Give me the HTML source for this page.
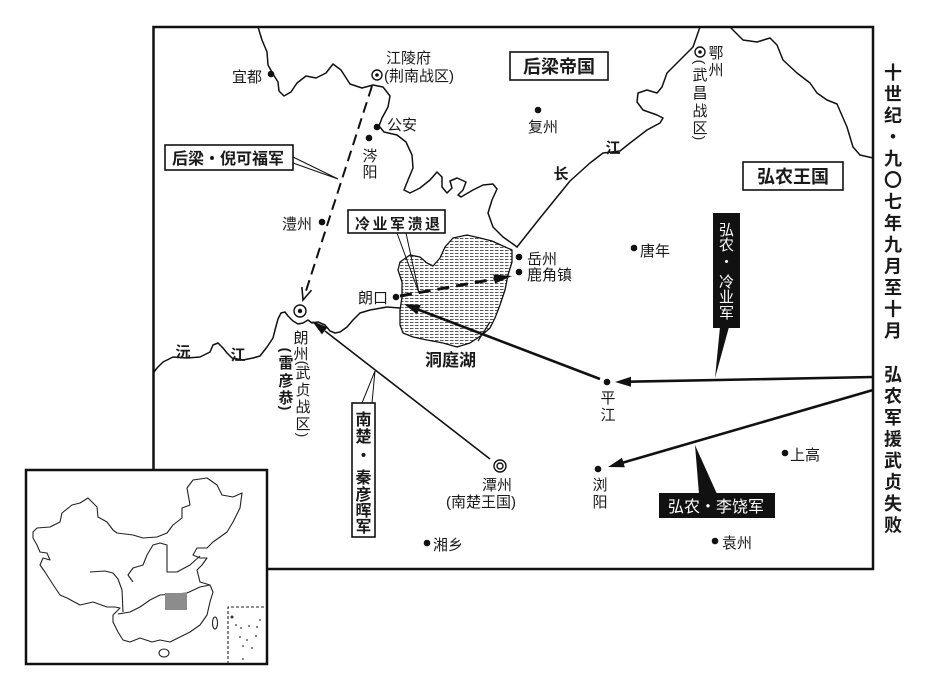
<!DOCTYPE html>
<html><head><meta charset="utf-8"><style>
html,body{margin:0;padding:0;background:#fff;}
svg{display:block;}
text{font-family:"Liberation Sans","Noto Sans CJK SC",sans-serif;fill:#1a1a1a;}
.p{font-size:15px;fill:#222;}
.b{font-weight:bold;}
.w{fill:#fff;}
</style></head><body>
<svg width="927" height="691" viewBox="0 0 927 691" xmlns="http://www.w3.org/2000/svg">
<defs>
<pattern id="lk" width="5" height="3" patternUnits="userSpaceOnUse">
<rect width="5" height="3" fill="#fff"/>
<line x1="0" y1="1.5" x2="3.5" y2="1.5" stroke="#444" stroke-width="0.9"/>
</pattern>
</defs>
<rect width="927" height="691" fill="#fff"/>

<!-- main frame -->
<rect x="153.5" y="27" width="719.5" height="542" fill="none" stroke="#111" stroke-width="2.5"/>

<!-- rivers -->
<g fill="none" stroke="#111" stroke-width="1.5" stroke-linejoin="round" stroke-linecap="round">
<polyline points="258,27 262,40 267,52 268,65 273,74 278,82 279,91 284,96 291,92 297,83 306,76 316,78 326,73 333,64 341,70 350,84 362,88 373,85 383,87 390,96 388,107 382,118 379,126 384,132 397,135 406,142 412,155 413,168 408,180 404,190 410,193 420,188 430,180 437,172 442,177 442,187 447,193 452,188 450,181 457,178 466,182 463,190 458,195 461,197 473,190 483,185 493,184 497,189 492,200 488,213 493,227 503,237 513,244 517,247"/>
<polyline points="517,247 540,218 570,181 590,163 603,153 620,151 630,143 647,130 660,123 663,118 657,115 643,110 637,102 638,93 647,90 657,93 662,87 667,73 680,60 693,47 700,27"/>
<polyline points="730,27 743,40 757,42 770,38 777,45 783,60 797,73 810,83 817,93 827,100 837,104 847,127 853,147 860,155 873,158"/>
<polyline points="400,308 387,307 370,310 360,313 353,320 347,327 340,332 335,333 330,331 325,325 318,322 312,323 308,320 303,323 298,324 293,321 288,316 285,312 281,313 278,319 275,330 273,338 267,347 260,356 253,358 243,360 232,358 227,353 223,348 218,343 213,345 210,352 200,357 187,358 173,357 163,362 157,368 154,372"/>
</g>

<!-- lake -->
<path d="M400,262 L410,255 L420,257 L427,263 L433,266 L440,258 L445,247 L453,238 L467,235 L480,238 L492,241 L503,246 L512,250 L512,262 L508,275 L505,290 L500,305 L495,318 L490,328 L482,335 L470,343 L457,347 L443,343 L427,340 L413,337 L403,333 L400,325 L400,310 L402,297 L402,282 L398,270 Z" fill="url(#lk)" stroke="#111" stroke-width="1.3" stroke-linejoin="round"/>
<line x1="478" y1="341" x2="490" y2="322" stroke="#111" stroke-width="1.2"/>

<!-- dashed Houliang army -->
<line x1="372" y1="86" x2="305" y2="294" stroke="#111" stroke-width="2" stroke-dasharray="11,6"/>
<polyline points="301.9,287.1 303,300 311.5,290.1" fill="none" stroke="#111" stroke-width="1.6"/>
<polyline points="293,157 338,179 293,163" fill="none" stroke="#111" stroke-width="1"/>

<!-- retreat dashed -->
<line x1="400" y1="296" x2="495" y2="279" stroke="#111" stroke-width="3" stroke-dasharray="12,7"/>
<polygon points="512,276 495,283.5 493.5,274.5" fill="#111"/>
<polyline points="397,233 419,293 406,233" fill="none" stroke="#111" stroke-width="1"/>

<!-- Pingjiang -> Langkou -->
<line x1="600" y1="379" x2="418" y2="309.5" stroke="#111" stroke-width="2.6"/>
<polygon points="404,304 420.7,305 417.1,314.4" fill="#111"/>

<!-- right edge -> Pingjiang -->
<line x1="873" y1="377" x2="630" y2="381.7" stroke="#111" stroke-width="2.6"/>
<polygon points="615,382 631,376.7 631,386.7" fill="#111"/>

<!-- right edge -> Liuyang -->
<line x1="873" y1="390" x2="623" y2="462.6" stroke="#111" stroke-width="2.6"/>
<polygon points="608,467 622,457.7 624.8,467.3" fill="#111"/>

<!-- Tanzhou -> Langzhou -->
<line x1="490" y1="459" x2="325" y2="331" stroke="#111" stroke-width="1.6"/>
<polygon points="312,321 327.5,327.2 321.9,334.4" fill="#111"/>
<polyline points="362,403 375,371 372,403" fill="none" stroke="#111" stroke-width="1"/>

<!-- black leader wedges -->
<polygon points="720,327 729,327 715,378" fill="#111"/>
<polygon points="699,494 717,494 695,445" fill="#111"/>

<!-- labels boxes -->
<rect x="165" y="145" width="128" height="25" fill="#fff" stroke="#111" stroke-width="1.6"/>
<text x="172" y="164" class="b" font-size="16">后梁・倪可福军</text>

<rect x="348" y="210" width="97" height="23" fill="#fff" stroke="#111" stroke-width="1.6"/>
<text x="355" y="229" font-size="15" letter-spacing="2.5" class="b">冷业军溃退</text>

<rect x="510" y="52" width="98" height="28" fill="#fff" stroke="#111" stroke-width="1.6"/>
<text x="559" y="73" text-anchor="middle" class="b" font-size="18">后梁帝国</text>

<rect x="743" y="162" width="100" height="28" fill="#fff" stroke="#111" stroke-width="1.6"/>
<text x="793" y="183" text-anchor="middle" class="b" font-size="18">弘农王国</text>

<rect x="352" y="403" width="23" height="134" fill="#fff" stroke="#111" stroke-width="1.6"/>
<g class="b" font-size="16" text-anchor="middle">
<text x="363.5" y="425">南</text><text x="363.5" y="442">楚</text><text x="363.5" y="461">・</text>
<text x="363.5" y="483">秦</text><text x="363.5" y="500">彦</text><text x="363.5" y="516">晖</text><text x="363.5" y="532">军</text>
</g>

<rect x="713" y="213" width="27" height="115" fill="#111"/>
<g font-size="15" text-anchor="middle">
<text class="w" x="726.5" y="235">弘</text><text class="w" x="726.5" y="250">农</text><text class="w" x="726.5" y="267">・</text>
<text class="w" x="726.5" y="287">冷</text><text class="w" x="726.5" y="302">业</text><text class="w" x="726.5" y="318">军</text>
</g>

<rect x="659" y="493" width="116" height="25" fill="#111"/>
<text class="w" x="668" y="512" font-size="16">弘农・李饶军</text>

<!-- symbols -->
<g fill="#111">
<circle cx="271" cy="74" r="3.3"/>
<circle cx="377" cy="127" r="3.3"/>
<circle cx="369" cy="138" r="3.3"/>
<circle cx="322" cy="222" r="3.3"/>
<circle cx="538" cy="110" r="3.3"/>
<circle cx="634" cy="248" r="3.3"/>
<circle cx="519" cy="257" r="3.3"/>
<circle cx="519" cy="272" r="3.3"/>
<circle cx="396" cy="297" r="3.3"/>
<circle cx="607" cy="382" r="3.3"/>
<circle cx="598" cy="469" r="3.3"/>
<circle cx="785" cy="453" r="3.3"/>
<circle cx="715" cy="541" r="3.3"/>
<circle cx="427" cy="543" r="3.3"/>
</g>
<g fill="#fff" stroke="#111" stroke-width="1.4">
<circle cx="377" cy="75" r="5"/>
<circle cx="700" cy="52" r="5"/>
<circle cx="300" cy="311" r="6"/>
<circle cx="500" cy="466" r="6"/>
<circle cx="500" cy="466" r="3"/>
</g>
<g fill="#111">
<circle cx="377" cy="75" r="1.8"/>
<circle cx="700" cy="52" r="1.8"/>
<circle cx="300" cy="311" r="2.2"/>
</g>

<!-- place labels -->
<g class="p">
<text x="232" y="82">宜都</text>
<text x="386" y="63">江陵府</text>
<text x="384" y="81">(荆南战区)</text>
<text x="387" y="130">公安</text>
<text x="370" y="161" text-anchor="middle">涔</text>
<text x="370" y="177" text-anchor="middle">阳</text>
<text x="282" y="229">澧州</text>
<text x="528" y="132">复州</text>
<text x="716" y="58" text-anchor="middle">鄂</text>
<text x="716" y="75" text-anchor="middle">州</text>
<text x="700" y="80" text-anchor="middle">武</text>
<text x="700" y="98" text-anchor="middle">昌</text>
<text x="700" y="116" text-anchor="middle">战</text>
<text x="700" y="133" text-anchor="middle">区</text>
<text x="640" y="256">唐年</text>
<text x="527" y="264">岳州</text>
<text x="527" y="280">鹿角镇</text>
<text x="358" y="303">朗口</text>
<text x="301" y="343" text-anchor="middle">朗</text>
<text x="301" y="359" text-anchor="middle">州</text>
<text x="303" y="378" text-anchor="middle">武</text>
<text x="303" y="395" text-anchor="middle">贞</text>
<text x="303" y="412" text-anchor="middle">战</text>
<text x="303" y="429" text-anchor="middle">区</text>
<text x="482" y="490">潭州</text>
<text x="446" y="507">(南楚王国)</text>
<text x="433" y="550">湘乡</text>
<text x="608" y="403" text-anchor="middle">平</text>
<text x="608" y="420" text-anchor="middle">江</text>
<text x="600" y="490" text-anchor="middle">浏</text>
<text x="600" y="507" text-anchor="middle">阳</text>
<text x="790" y="460">上高</text>
<text x="722" y="548">袁州</text>
</g>
<!-- rotated parens for vertical labels -->
<g font-size="14" text-anchor="middle" fill="#222">
<text x="700" y="67" transform="rotate(90 700 62)">(</text>
<text x="700" y="143" transform="rotate(90 700 138)">)</text>
<text x="303" y="368" transform="rotate(90 303 363)">(</text>
<text x="303" y="440" transform="rotate(90 303 435)">)</text>
<text x="286" y="355" transform="rotate(90 286 350)" font-weight="bold">(</text>
<text x="286" y="413" transform="rotate(90 286 408)" font-weight="bold">)</text>
</g>
<g class="b" font-size="15" text-anchor="middle">
<text x="286" y="368">雷</text>
<text x="286" y="386">彦</text>
<text x="286" y="403">恭</text>
<text x="183" y="357">沅</text>
<text x="238" y="360">江</text>
<text x="561" y="179">长</text>
<text x="613" y="153">江</text>
</g>
<text x="425" y="366" class="b" font-size="17">洞庭湖</text>

<!-- right title -->
<g class="b" font-size="18" text-anchor="middle">
<text x="893" y="79">十</text>
<text x="893" y="100.5">世</text>
<text x="893" y="122">纪</text>
<text x="893" y="143.5">・</text>
<text x="893" y="165">九</text>
<text x="893" y="186.5">〇</text>
<text x="893" y="208">七</text>
<text x="893" y="229.5">年</text>
<text x="893" y="251">九</text>
<text x="893" y="272.5">月</text>
<text x="893" y="294">至</text>
<text x="893" y="315.5">十</text>
<text x="893" y="337">月</text>
<text x="893" y="381">弘</text>
<text x="893" y="402.5">农</text>
<text x="893" y="424">军</text>
<text x="893" y="445.5">援</text>
<text x="893" y="467">武</text>
<text x="893" y="488.5">贞</text>
<text x="893" y="510">失</text>
<text x="893" y="531.5">败</text>
</g>

<!-- inset map -->
<rect x="26" y="470" width="241" height="194" fill="#fff" stroke="#111" stroke-width="2.5"/>
<g fill="none" stroke="#222" stroke-width="1.1" stroke-linejoin="round">
<path d="M33,532 L37,528 L50,527 L60,522 L62,513 L72,505 L80,503 L88,498 L97,507 L98,517 L107,522 L113,530 L117,533 L133,535 L143,538 L157,537 L167,533 L173,525 L182,518 L182,508 L190,505 L187,488 L193,480 L207,478 L217,485 L222,495 L233,497 L242,493 L240,508 L233,522 L227,532 L213,542 L207,548 L197,548 L193,555 L200,558 L207,558 L202,565 L197,570 L200,582 L210,585 L213,592 L210,602 L207,615 L200,625 L190,632 L180,637 L170,642 L160,640 L152,642 L140,638 L130,642 L123,640 L118,632 L113,622 L113,615 L120,608 L115,607 L107,607 L93,602 L80,605 L67,598 L60,595 L52,583 L45,572 L40,565 L43,558 L50,560 L47,553 L40,552 L37,545 L33,538 Z"/>
<polyline points="90,572 105,571 113,573 118,579 122,590 123,612"/>
<polyline points="133,582 128,575 133,568 143,565 147,555 153,545 160,543 167,545 167,560 167,572 177,572 190,565 200,556"/>
<polyline points="118,614 130,612 140,607 150,600 160,595 175,594 187,593 200,587 210,585"/>
<ellipse cx="164" cy="653" rx="5" ry="4"/>
<ellipse cx="215" cy="623" rx="2.5" ry="6"/>
<polyline points="228,664 228,607 266,607" stroke-dasharray="3,2"/>
</g>
<rect x="165" y="593" width="22" height="17" fill="#8c8c8c"/>
<g fill="#333">
<circle cx="236" cy="625" r="0.9"/><circle cx="241" cy="628" r="0.9"/><circle cx="249" cy="626" r="0.9"/>
<circle cx="257" cy="627" r="0.9"/><circle cx="240" cy="637" r="0.9"/><circle cx="247" cy="640" r="0.9"/>
<circle cx="256" cy="636" r="0.9"/><circle cx="243" cy="646" r="0.9"/><circle cx="252" cy="648" r="0.9"/>
<circle cx="260" cy="620" r="0.9"/><circle cx="243" cy="659" r="0.9"/><circle cx="232" cy="617" r="1.5"/>
</g>
</svg>
</body></html>
